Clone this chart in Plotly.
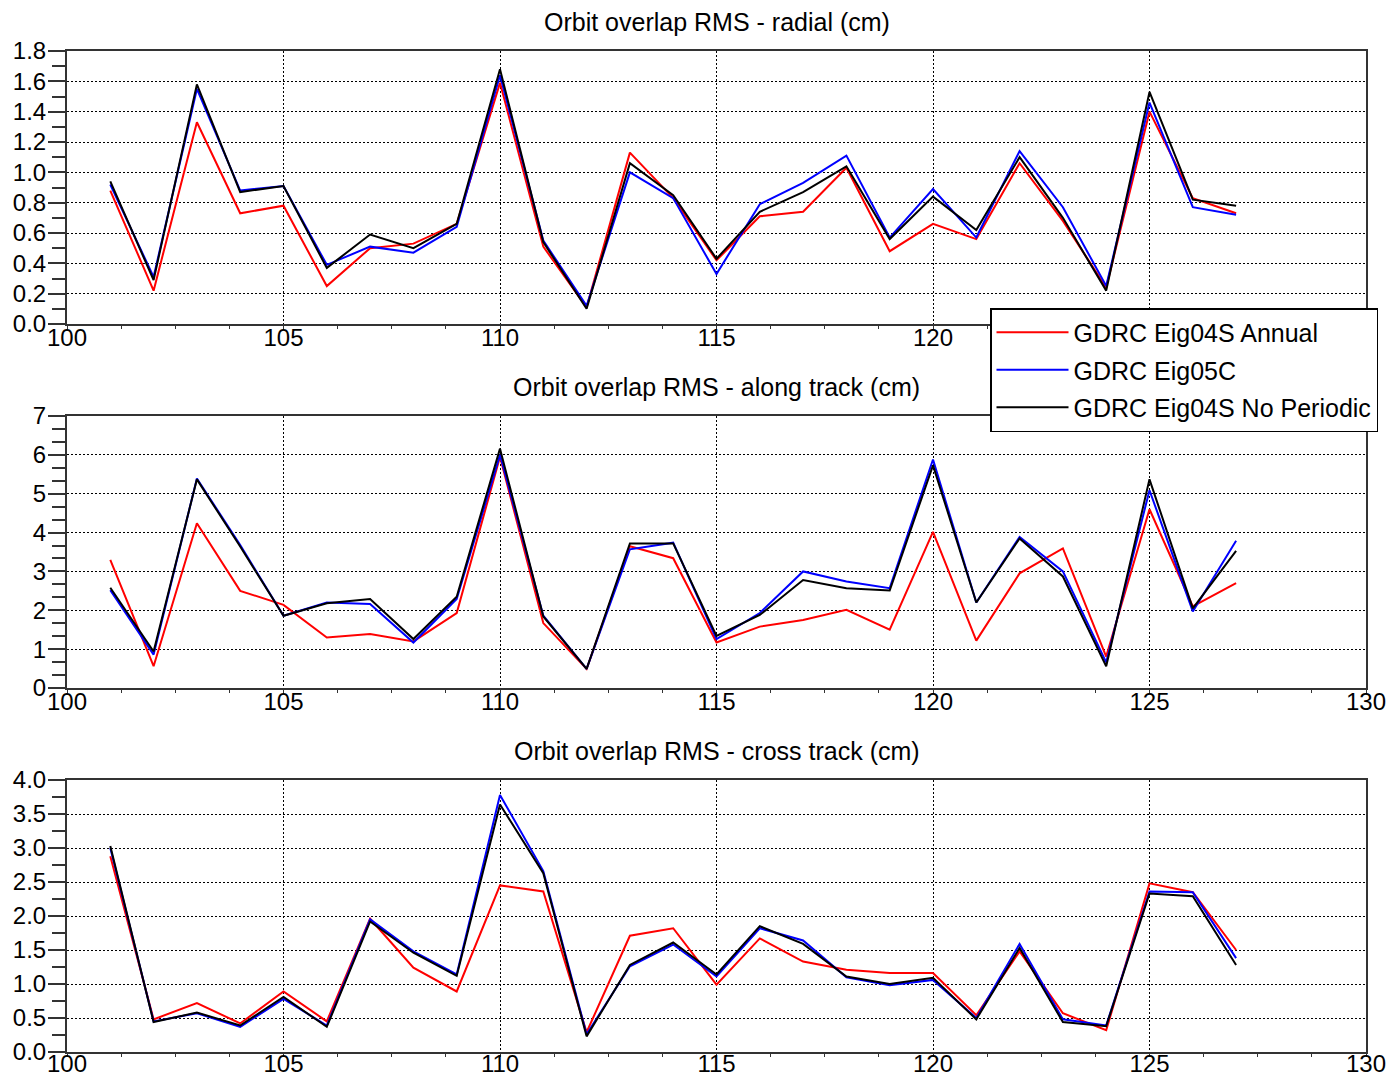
import plotly.graph_objects as go
from plotly.subplots import make_subplots

orbit = list(range(101, 128))

series_names = ["GDRC Eig04S Annual", "GDRC Eig05C", "GDRC Eig04S No Periodic"]
series_colors = ["#ff0000", "#0000ff", "#000000"]

# Radial (cm)
radial_annual = [0.88, 0.22, 1.33, 0.73, 0.78, 0.25, 0.50, 0.53, 0.66, 1.59, 0.51, 0.11,
                 1.13, 0.83, 0.42, 0.71, 0.74, 1.03, 0.48, 0.66, 0.56, 1.06, 0.68, 0.24,
                 1.40, 0.83, 0.73]
radial_eig05c = [0.92, 0.31, 1.55, 0.88, 0.91, 0.39, 0.51, 0.47, 0.64, 1.64, 0.55, 0.12,
                 1.00, 0.83, 0.33, 0.79, 0.93, 1.11, 0.57, 0.89, 0.57, 1.14, 0.77, 0.25,
                 1.46, 0.77, 0.72]
radial_noper = [0.94, 0.29, 1.58, 0.87, 0.91, 0.37, 0.59, 0.50, 0.66, 1.68, 0.54, 0.10,
                1.06, 0.85, 0.43, 0.74, 0.87, 1.04, 0.56, 0.84, 0.62, 1.10, 0.70, 0.22,
                1.53, 0.82, 0.78]

# Along track (cm)
along_annual = [3.30, 0.56, 4.24, 2.50, 2.14, 1.30, 1.39, 1.20, 1.93, 5.95, 1.67, 0.49,
                3.65, 3.34, 1.17, 1.58, 1.75, 2.01, 1.50, 4.02, 1.22, 2.95, 3.59, 0.81,
                4.60, 2.10, 2.70]
along_eig05c = [2.52, 0.86, 5.39, 3.68, 1.86, 2.20, 2.16, 1.17, 2.29, 6.00, 1.86, 0.49,
                3.57, 3.74, 1.26, 1.93, 3.00, 2.74, 2.57, 5.88, 2.20, 3.89, 3.00, 0.66,
                5.09, 1.97, 3.79]
along_noper = [2.58, 0.94, 5.37, 3.64, 1.86, 2.18, 2.29, 1.26, 2.35, 6.16, 1.84, 0.49,
               3.72, 3.72, 1.34, 1.88, 2.78, 2.57, 2.51, 5.73, 2.20, 3.85, 2.87, 0.56,
               5.37, 2.05, 3.53]

# Cross track (cm)
cross_annual = [2.88, 0.48, 0.72, 0.42, 0.89, 0.45, 1.96, 1.24, 0.89, 2.45, 2.36, 0.29,
                1.71, 1.82, 0.99, 1.67, 1.33, 1.21, 1.16, 1.16, 0.54, 1.48, 0.57, 0.32,
                2.48, 2.35, 1.50]
cross_eig05c = [3.00, 0.45, 0.57, 0.37, 0.78, 0.39, 1.95, 1.48, 1.14, 3.78, 2.66, 0.26,
                1.26, 1.58, 1.11, 1.82, 1.64, 1.10, 0.98, 1.06, 0.50, 1.59, 0.48, 0.39,
                2.36, 2.35, 1.38]
cross_noper = [3.03, 0.44, 0.58, 0.39, 0.81, 0.37, 1.92, 1.46, 1.12, 3.64, 2.63, 0.23,
               1.28, 1.61, 1.14, 1.85, 1.59, 1.11, 1.00, 1.09, 0.48, 1.53, 0.44, 0.38,
               2.33, 2.29, 1.28]

panel_titles = ["Orbit overlap RMS - radial (cm)",
                "Orbit overlap RMS - along track (cm)",
                "Orbit overlap RMS - cross track (cm)"]

panels = [
    [radial_annual, radial_eig05c, radial_noper],
    [along_annual, along_eig05c, along_noper],
    [cross_annual, cross_eig05c, cross_noper],
]

x_range = [100, 130]
x_ticks = [100, 105, 110, 115, 120, 125, 130]
# top panel: the 130 label sits under the legend box in the original
x_ticktexts = [
    ["100", "105", "110", "115", "120", "125", ""],
    ["100", "105", "110", "115", "120", "125", "130"],
    ["100", "105", "110", "115", "120", "125", "130"],
]
y_ranges = [[0, 1.8], [0, 7], [0, 4]]
y_dticks = [0.2, 1, 0.5]
y_minor = [0.1, 1 / 3, 0.25]
y_formats = [".1f", "d", ".1f"]

# Page is 1397x1081 with the browser's 8px body margin around the figure
OFF = 8
W, H = 1397 - 2 * OFF, 1081 - 2 * OFF
PLOT_L, PLOT_R, PLOT_T, PLOT_B = 67, 1366, 51, 1052   # page pixels
ML, MR = PLOT_L - OFF, W - (PLOT_R - OFF)
MT, MB = PLOT_T - OFF, H - (PLOT_B - OFF)
PW, PH = PLOT_R - PLOT_L, PLOT_B - PLOT_T


def py2paper(py):
    return (PLOT_B - py) / PH


def px2paper(px):
    return (px - PLOT_L) / PW


domains = [
    [py2paper(324), py2paper(51)],
    [py2paper(688), py2paper(416)],
    [py2paper(1052), py2paper(780)],
]
x_label_standoff = [-12, -12, -14]

fig = make_subplots(rows=3, cols=1)

FONT = "Liberation Sans, Arial, Helvetica, sans-serif"
AXC = "#333333"

for r, data in enumerate(panels, start=1):
    for i, (name, color, vals) in enumerate(zip(series_names, series_colors, data)):
        fig.add_trace(
            go.Scatter(
                x=orbit, y=vals, mode="lines", name=name,
                line=dict(color=color, width=2),
                showlegend=(r == 1), legendgroup="g%d" % i,
            ),
            row=r, col=1,
        )
    xa = "xaxis" if r == 1 else "xaxis%d" % r
    ya = "yaxis" if r == 1 else "yaxis%d" % r
    fig.layout[xa].update(
        range=x_range, tickmode="array", tickvals=x_ticks,
        ticktext=x_ticktexts[r - 1], automargin=False,
        showline=True, mirror=True, linecolor=AXC, linewidth=2,
        ticks="outside", ticklen=3, tickcolor=AXC, tickwidth=1,
        ticklabelstandoff=x_label_standoff[r - 1],
        showgrid=True, gridcolor="#000000", gridwidth=1, griddash="2px,2px",
        zeroline=False,
        minor=dict(dtick=1.25, tick0=100, ticks="outside", ticklen=3,
                   tickcolor=AXC, showgrid=False),
        tickfont=dict(family=FONT, size=24, color="#000000"),
        domain=[0, 1],
    )
    fig.layout[ya].update(
        range=y_ranges[r - 1], dtick=y_dticks[r - 1], tick0=0,
        tickformat=y_formats[r - 1], automargin=False,
        showline=True, mirror=True, linecolor=AXC, linewidth=2,
        ticks="outside", ticklen=17, tickcolor=AXC, tickwidth=1.5,
        ticklabelstandoff=-3,
        showgrid=True, gridcolor="#000000", gridwidth=1, griddash="2px,2px",
        zeroline=False,
        minor=dict(dtick=y_minor[r - 1], tick0=0, ticks="outside", ticklen=13,
                   tickcolor=AXC, tickwidth=1.5, showgrid=False),
        tickfont=dict(family=FONT, size=24, color="#000000"),
        domain=domains[r - 1],
    )
    fig.add_annotation(
        text=panel_titles[r - 1], xref="paper", yref="paper",
        x=0.5, y=domains[r - 1][1], xanchor="center", yanchor="middle",
        yshift=29, showarrow=False,
        font=dict(family=FONT, size=25, color="#000000"),
    )

fig.update_layout(
    width=W, height=H, autosize=False,
    margin=dict(l=ML, r=MR, t=MT, b=MB, pad=0, autoexpand=False),
    paper_bgcolor="#ffffff", plot_bgcolor="#ffffff",
    font=dict(family=FONT, color="#000000"),
    legend=dict(
        x=px2paper(990), xanchor="left",
        y=py2paper(308), yanchor="top",
        bgcolor="#ffffff", bordercolor="#000000", borderwidth=1.5,
        font=dict(family=FONT, size=25, color="#000000"),
        itemwidth=72, tracegroupgap=2,
    ),
)

fig.write_html("out.html")
